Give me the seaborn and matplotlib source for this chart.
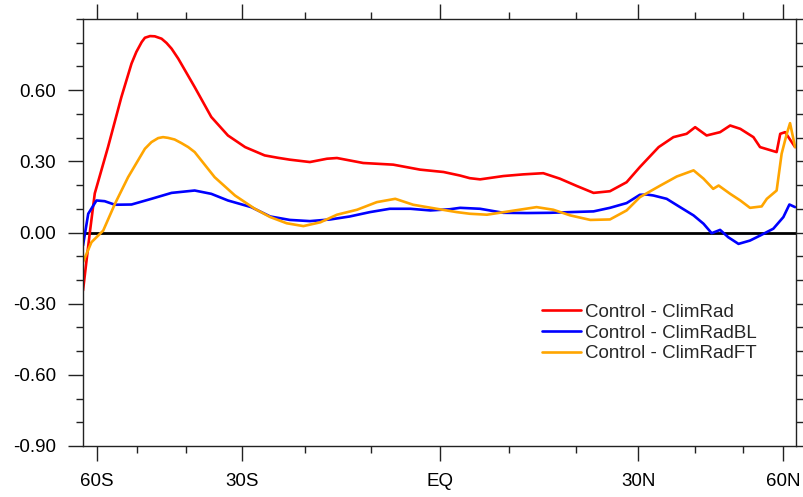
import matplotlib
matplotlib.use("Agg")
import matplotlib.pyplot as plt
import matplotlib.ticker as mticker
import numpy as np
import pandas as pd
import seaborn as sns

# zonal-mean differences (latitude in degrees)
lat_rad = [-64.4, -62.2, -60.7, -57.0, -53.6, -51.2, -50.1, -48.9, -48.2, -47.1,
           -46.1, -44.7, -43.7, -42.7, -41.4,
           -38.3, -35.3, -32.4, -29.5, -26.3, -24.2, -22.3, -19.2, -16.6, -15.1,
           -11.2, -6.8, -2.9, 0.5, 2.9, 4.3, 5.8, 9.2, 12.1, 15.1,
           17.6, 20.2, 22.8, 25.4, 28.1, 30.3, 33.5, 36.1, 38.5, 40.1,
           42.3, 45.0, 47.1, 49.3, 52.3, 53.9, 58.2, 59.2, 60.6, 61.6, 63.7]
climrad = [-0.245, 0.0, 0.165, 0.36, 0.571, 0.712, 0.761, 0.803, 0.821, 0.828,
           0.827, 0.817, 0.799, 0.775, 0.733,
           0.613, 0.487, 0.409, 0.36, 0.325, 0.315, 0.307, 0.297, 0.311, 0.314,
           0.293, 0.286, 0.265, 0.255, 0.24, 0.229, 0.224, 0.238, 0.245, 0.25,
           0.227, 0.196, 0.167, 0.174, 0.212, 0.276, 0.36, 0.402, 0.416, 0.444,
           0.409, 0.423, 0.451, 0.437, 0.402, 0.36, 0.339, 0.416, 0.423, 0.402, 0.36]

lat_bl = [-64.4, -62.7, -60.2, -57.9, -55.2, -51.2, -46.8, -42.7, -38.3, -35.3,
          -32.4, -28.5, -25.4, -22.3, -19.2, -16.1, -13.2, -10.2, -7.3, -4.3,
          -1.4, 1.4, 2.9, 5.8, 9.2, 12.6, 16.1, 19.2, 22.8, 25.4,
          28.1, 30.3, 31.5, 32.6, 34.9, 37.3, 39.8, 41.7, 43.3, 45.0,
          46.7, 48.9, 51.5, 53.9, 57.3, 60.1, 61.9, 63.7]
climrad_bl = [-0.055, 0.079, 0.135, 0.132, 0.117, 0.118, 0.142, 0.167, 0.177, 0.163,
              0.135, 0.107, 0.0675, 0.053, 0.048, 0.055, 0.0675, 0.086, 0.1, 0.1,
              0.093, 0.098, 0.104, 0.1, 0.083, 0.082, 0.083, 0.086, 0.089, 0.104,
              0.124, 0.159, 0.16, 0.156, 0.142, 0.107, 0.072, 0.037, -0.003, 0.011,
              -0.02, -0.048, -0.034, -0.013, 0.016, 0.065, 0.118, 0.107]

lat_ft = [-64.4, -61.7, -58.3, -55.2, -52.0, -48.2, -46.8, -45.4, -44.4, -43.4,
          -42.1, -40.8, -39.5, -38.3, -34.7,
          -31.2, -27.9, -25.4, -22.8, -20.2, -17.6, -15.1, -12.1, -9.2, -6.5,
          -3.9, -0.5, 2.4, 4.3, 6.8, 10.2, 14.1, 16.6, 19.2, 22.3,
          25.4, 28.1, 30.3, 33.8, 36.7, 39.8, 41.7, 43.6, 44.7, 47.1,
          49.3, 51.5, 54.3, 55.6, 58.2, 59.6, 61.1, 62.1, 63.7]
climrad_ft = [-0.125, -0.041, 0.008, 0.121, 0.233, 0.353, 0.381, 0.398, 0.402, 0.399,
              0.392, 0.377, 0.36, 0.339, 0.233,
              0.156, 0.1, 0.065, 0.039, 0.027, 0.043, 0.075, 0.096, 0.128, 0.142,
              0.117, 0.1, 0.086, 0.079, 0.075, 0.09, 0.107, 0.096, 0.072, 0.053,
              0.055, 0.093, 0.149, 0.198, 0.236, 0.262, 0.227, 0.184, 0.198, 0.163,
              0.135, 0.104, 0.11, 0.142, 0.177, 0.332, 0.416, 0.461, 0.36]

labels = ["Control - ClimRad", "Control - ClimRadBL", "Control - ClimRadFT"]
colors = ["#ff0000", "#0000ff", "#ffa500"]

x_major = [-60, -30, 0, 30, 60]
x_major_labels = ["60S", "30S", "EQ", "30N", "60N"]
x_minor = [-50, -40, -20, -10, 10, 20, 40, 50]
y_major = [-0.9, -0.6, -0.3, 0.0, 0.3, 0.6]

df = pd.concat([
    pd.DataFrame({"lat": lat_rad, "diff": climrad, "run": labels[0]}),
    pd.DataFrame({"lat": lat_bl, "diff": climrad_bl, "run": labels[1]}),
    pd.DataFrame({"lat": lat_ft, "diff": climrad_ft, "run": labels[2]}),
])

sns.set_style("ticks")
plt.rcParams["font.family"] = ["Liberation Sans", "DejaVu Sans"]

fig = plt.figure(figsize=(8.04, 4.97), dpi=100)
ax = fig.add_axes([83 / 804, 1 - 446 / 497, (796 - 83) / 804, (446 - 19) / 497])

# sine-of-latitude axis, as in the original NCL plot
ax.set_xscale("function", functions=(
    lambda x: np.sin(np.deg2rad(x)),
    lambda s: np.rad2deg(np.arcsin(np.clip(s, -1, 1)))))

ax.axhline(0, color="black", lw=2.0, zorder=1)
sns.lineplot(data=df, x="lat", y="diff", hue="run", palette=dict(zip(labels, colors)),
             estimator=None, sort=False, lw=1.9, ax=ax, zorder=2)

ax.set_xlim(-64.4, 64.0)
ax.set_ylim(-0.9, 0.9)
ax.xaxis.set_major_locator(mticker.FixedLocator(x_major))
ax.xaxis.set_minor_locator(mticker.FixedLocator(x_minor))
ax.set_xticklabels(x_major_labels)
ax.yaxis.set_major_locator(mticker.FixedLocator(y_major))
ax.yaxis.set_minor_locator(mticker.MultipleLocator(0.1))
ax.yaxis.set_major_formatter(mticker.FormatStrFormatter("%.2f"))

ax.tick_params(which="major", direction="out", length=10.5, width=1.0, color="#222222",
               top=True, right=True, labelsize=13.5, pad=9, labelcolor="black")
ax.tick_params(which="minor", direction="out", length=5, width=1.0, color="#222222",
               top=True, right=True)
for s in ax.spines.values():
    s.set_visible(True)
    s.set_linewidth(1.0)
    s.set_color("#222222")
ax.set_xlabel("")
ax.set_ylabel("")

handles = [plt.Line2D([], [], color=c, lw=1.9) for c in colors]
ax.legend(handles, labels, loc="center left", bbox_to_anchor=(542 / 804, 1 - 333 / 497),
          bbox_transform=fig.transFigure, frameon=False, fontsize=13.5,
          handlelength=2.1, handletextpad=0.2, labelspacing=0.2,
          borderpad=0, borderaxespad=0)

fig.savefig("out.png", dpi=100)
